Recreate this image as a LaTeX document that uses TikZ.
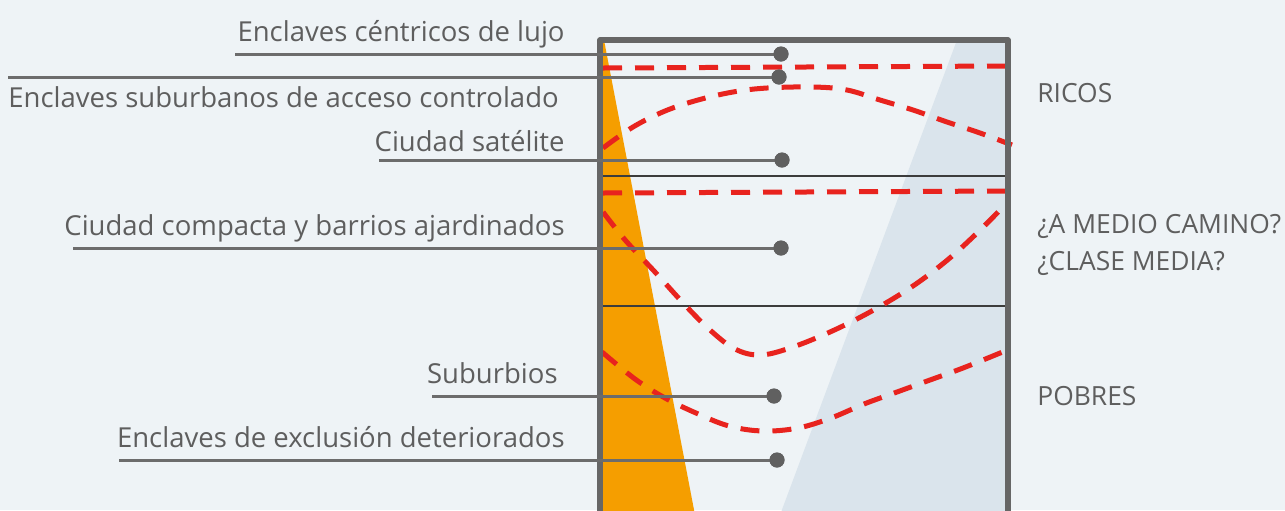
\documentclass[tikz,border=0pt]{standalone}
\usepackage{fontspec}
\setmainfont{Open Sans}
\definecolor{bgc}{RGB}{238,243,246}
\definecolor{bluec}{RGB}{218,228,236}
\definecolor{orangec}{RGB}{245,158,0}
\definecolor{redc}{RGB}{232,35,30}
\definecolor{framec}{RGB}{102,102,102}
\definecolor{txtc}{RGB}{94,94,94}
\definecolor{leadc}{RGB}{108,108,108}
\definecolor{dotc}{RGB}{96,96,96}
\definecolor{darkc}{RGB}{60,60,60}
\begin{document}
\begin{tikzpicture}[x=0.5pt,y=-0.5pt,
  lbl/.style={font=\fontsize{13.75}{16}\selectfont, text=txtc, inner sep=0pt},
  rlbl/.style={font=\fontsize{13.2}{16}\selectfont, text=txtc, inner sep=0pt},
  leader/.style={draw=leadc, line width=1.5pt},
  dotn/.style={circle, fill=dotc, minimum size=7.5pt, inner sep=0pt},
  reddash/.style={draw=redc, line width=2.5pt, dash pattern=on 9.5pt off 6.5pt},
  divider/.style={draw=darkc, line width=1pt},
  framel/.style={draw=framec, line width=2.6pt, line join=round}]
\useasboundingbox (0,0) rectangle (1285,510);
\fill[bgc] (0,0) rectangle (1285,510);
% shaded regions
\fill[bluec] (957,40) -- (1008,40) -- (1008,515) -- (780,515) -- cycle;
\fill[orangec] (601,40) -- (604,40) -- (695,515) -- (601,515) -- cycle;
% dividers
\draw[divider] (601,176) -- (1007,176);
\draw[divider] (601,306) -- (1007,306);
% red dashed curves
\draw[reddash] (603,68) -- (1007,66);
\draw[reddash] plot[smooth, tension=0.6] coordinates {(603,148) (633,127) (665,111) (698,100) (733,92) (767,88) (813,87) (847,90) (880,100) (913,110) (947,122) (980,133) (1012,145)};
\draw[reddash] (603,193) -- (1007,191);
\draw[reddash] plot[smooth, tension=0.6] coordinates {(603,212) (626,241) (655,272) (685,305) (710,330) (735,349) (760,355) (790,348) (830,332) (870,312) (910,288) (945,262) (975,235) (1007,203)};
\draw[reddash] plot[smooth, tension=0.6] coordinates {(602,352) (635,379) (665,398) (696,413) (729,426) (763,431) (798,428) (831,418) (864,404) (897,392) (930,380) (963,368) (1005,351)};
% frame
\draw[framel] (600,515) -- (600,40) -- (1008,40) -- (1008,515);
% labels
\node[lbl, anchor=base east] (t1) at (565,41) {Enclaves céntricos de lujo};
\node[lbl, anchor=base west] (t2) at (8,107) {Enclaves suburbanos de acceso controlado};
\node[lbl, anchor=base east] (t3) at (565,151) {Ciudad satélite};
\node[lbl, anchor=base east] (t4) at (565,235) {Ciudad compacta y barrios ajardinados};
\node[lbl, anchor=base east] (t5) at (558,383) {Suburbios};
\node[lbl, anchor=base east] (t6) at (565,447) {Enclaves de exclusión deteriorados};
% leaders
\coordinate (s1) at (235,54);
\coordinate (s2) at (8,77);
\coordinate (s3) at (379,160);
\coordinate (s4) at (73,248);
\coordinate (s5) at (432,396);
\coordinate (s6) at (119,460);
\node[dotn] (d1) at (781,54) {};
\node[dotn] (d2) at (779,77) {};
\node[dotn] (d3) at (782,160) {};
\node[dotn] (d4) at (781,248) {};
\node[dotn] (d5) at (774,396) {};
\node[dotn] (d6) at (777,460) {};
\foreach \i in {1,...,6} {\draw[leader] (s\i) -- (d\i.center);}
\foreach \i in {1,...,6} {\node[dotn] at (d\i) {};}
% right labels
\node[rlbl, anchor=base west] (r1) at (1037,102) {RICOS};
\node[rlbl, anchor=base west] (r2) at (1037,233) {¿A MEDIO CAMINO?};
\node[rlbl, anchor=base west] (r3) at (1037,270) {¿CLASE MEDIA?};
\node[rlbl, anchor=base west] (r4) at (1037,405) {POBRES};
\end{tikzpicture}
\end{document}
